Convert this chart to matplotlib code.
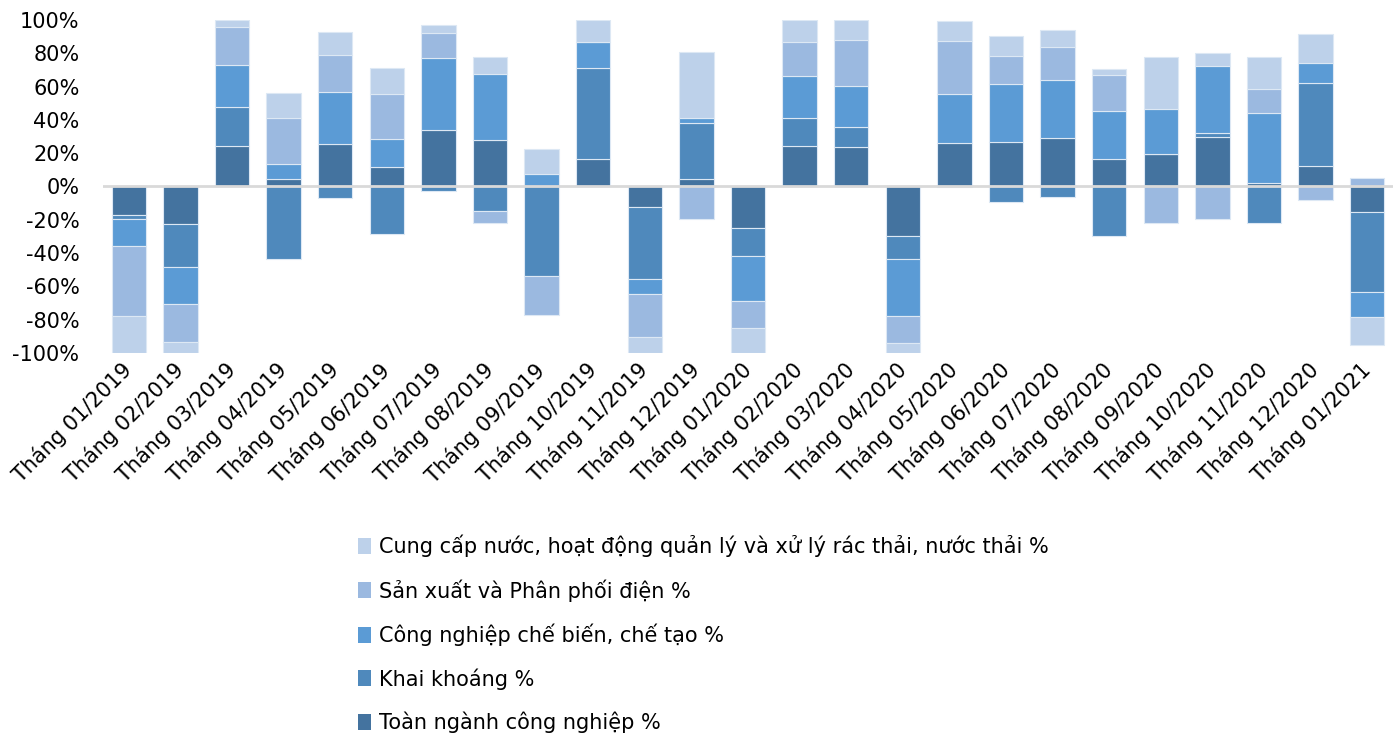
import numpy as np
import matplotlib.pyplot as plt
from matplotlib.patches import Patch

months = [
    "Tháng 01/2019", "Tháng 02/2019", "Tháng 03/2019", "Tháng 04/2019",
    "Tháng 05/2019", "Tháng 06/2019", "Tháng 07/2019", "Tháng 08/2019",
    "Tháng 09/2019", "Tháng 10/2019", "Tháng 11/2019", "Tháng 12/2019",
    "Tháng 01/2020", "Tháng 02/2020", "Tháng 03/2020", "Tháng 04/2020",
    "Tháng 05/2020", "Tháng 06/2020", "Tháng 07/2020", "Tháng 08/2020",
    "Tháng 09/2020", "Tháng 10/2020", "Tháng 11/2020", "Tháng 12/2020",
    "Tháng 01/2021",
]

# share of each series in the month (percent, sign kept)
toan_nganh = [-17.0, -22.3, 24.6, 4.6, 25.4, 12.0, 34.2, 28.2, 0.0, 16.8,
              -12.2, 4.6, -25.0, 24.2, 23.6, -29.6, 26.0, 27.0, 29.0, 16.8,
              19.8, 30.0, 2.0, 12.6, -15.4]
khai_khoang = [-2.3, -26.1, 23.2, -43.4, -7.0, -28.6, -2.8, -14.6, -54.0, 54.6,
               -43.4, 33.8, -16.8, 16.8, 12.0, -13.8, -0.6, -9.6, -6.4, -29.6,
               0.0, 2.4, -22.2, 49.4, -48.0]
che_bien = [-16.2, -22.0, 25.4, 9.0, 31.4, 16.8, 43.0, 39.6, 7.4, 15.6,
            -8.8, 2.6, -26.8, 25.6, 24.6, -34.6, 29.6, 34.8, 35.0, 28.8,
            27.0, 40.2, 42.4, 12.4, -14.8]
dien = [-42.5, -22.8, 22.8, 27.6, 22.0, 26.8, 15.0, -7.4, -23.4, 0.0,
        -25.8, -19.6, -16.6, 20.4, 28.0, -16.2, 31.8, 16.8, 20.0, 21.4,
        -22.2, -19.8, 14.2, -8.4, 5.0]
nuoc = [-22.0, -6.8, 4.0, 15.2, 14.0, 15.8, 5.0, 10.0, 15.2, 13.0,
        -9.8, 39.6, -14.8, 13.0, 11.8, -5.8, 12.0, 11.8, 9.8, 3.4,
        31.0, 7.4, 19.4, 17.2, -16.8]

series = [
    ("Toàn ngành công nghiệp %", toan_nganh, "#44739f"),
    ("Khai khoáng %", khai_khoang, "#4f89bc"),
    ("Công nghiệp chế biến, chế tạo %", che_bien, "#5b9bd5"),
    ("Sản xuất và Phân phối điện %", dien, "#9bb9e0"),
    ("Cung cấp nước, hoạt động quản lý và xử lý rác thải, nước thải %", nuoc, "#bdd1ea"),
]

plt.rcParams["font.family"] = ["DejaVu Sans"]

fig = plt.figure(figsize=(13.97, 7.37), dpi=100)
ax = fig.add_axes([103 / 1397, 1 - 353 / 737, 1290 / 1397, 333 / 737])

x = np.arange(len(months))
pos_base = np.zeros(len(months))
neg_base = np.zeros(len(months))
handles = []
for name, vals, color in series:
    v = np.array(vals)
    bottom = np.where(v >= 0, pos_base, neg_base)
    ax.bar(x, v, 0.67, bottom=bottom, color=color, edgecolor="#dde8f4",
           linewidth=0.8, zorder=2)
    pos_base += np.clip(v, 0, None)
    neg_base += np.clip(v, None, 0)
    handles.append(Patch(facecolor=color, label=name))

ax.axhline(0, color="#d9d9d9", linewidth=2, zorder=3)
ax.set_xlim(-0.5, len(months) - 0.5)
ax.set_ylim(-100, 100)
ax.set_yticks(np.arange(-100, 101, 20))
ax.set_yticklabels([f"{t}%" for t in range(-100, 101, 20)], fontsize=15)
ax.set_xticks(x)
ax.set_xticklabels(months, rotation=45, ha="right", va="center",
                   rotation_mode="anchor", fontsize=15)
ax.tick_params(axis="y", length=0, pad=17)
ax.tick_params(axis="x", length=0, pad=10)
for s in ax.spines.values():
    s.set_visible(False)

fig.legend(handles=handles[::-1], loc="upper left",
           bbox_to_anchor=(348 / 1397, 1 - 524 / 737), frameon=False,
           fontsize=15, handlelength=0.6, handleheight=0.8,
           handletextpad=0.4, labelspacing=1.06, borderpad=0)

fig.savefig("out.png", dpi=100)
